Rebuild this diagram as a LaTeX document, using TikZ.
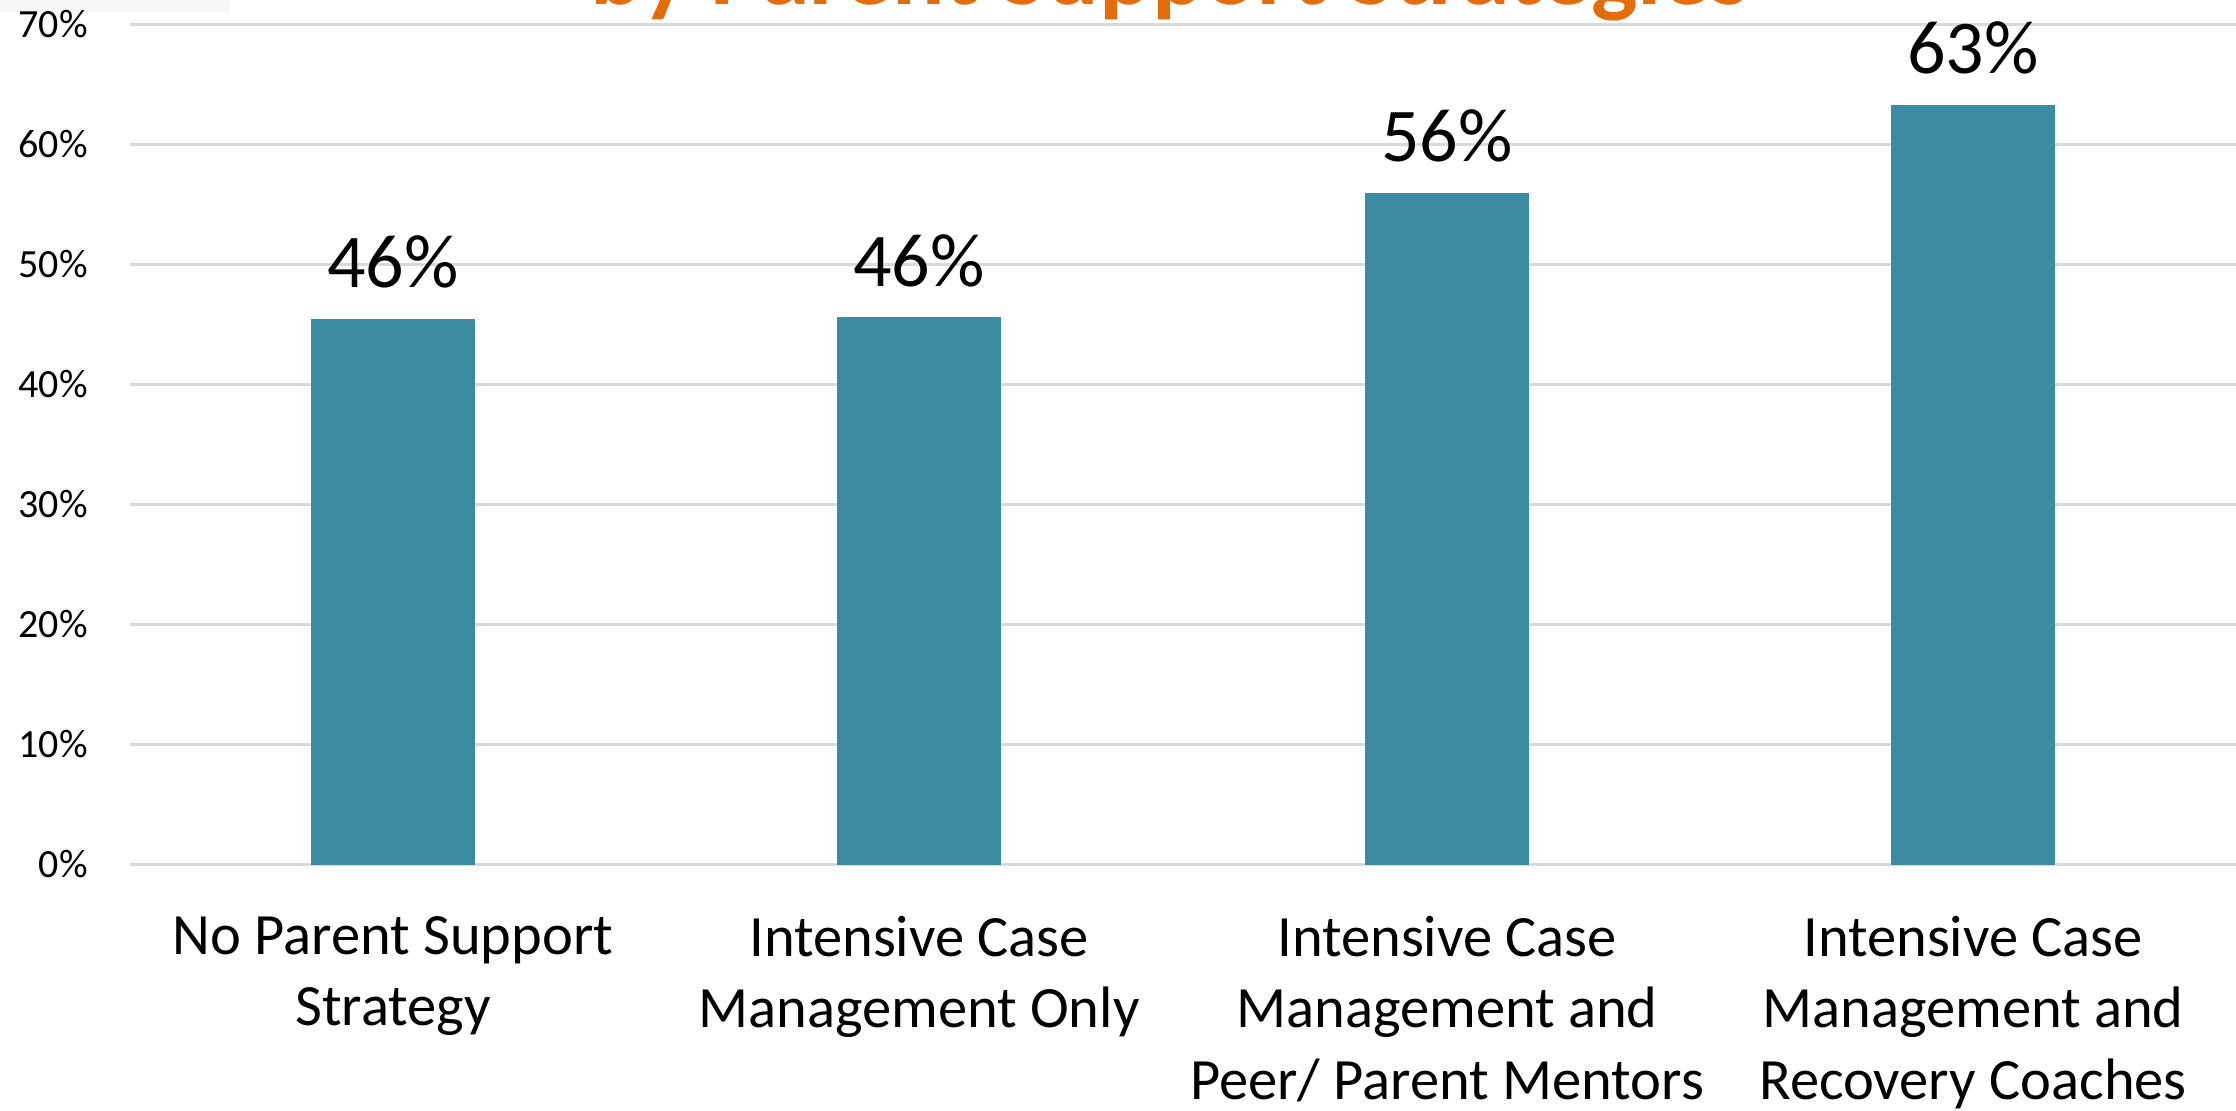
\documentclass[tikz,border=0pt]{standalone}
\usepackage{fontspec}
\setmainfont{Carlito}
\definecolor{barcol}{RGB}{61,139,163}
\definecolor{gridcol}{RGB}{217,217,217}
\definecolor{titlecol}{RGB}{228,108,10}
\begin{document}
\begin{tikzpicture}[x=1pt,y=-1pt,
  gridline/.style={draw=gridcol,line width=2.5pt},
  barbox/.style={fill=barcol,draw=none},
  ticklabel/.style={anchor=base east,inner sep=0pt,font=\fontsize{40}{48}\selectfont},
  vallabel/.style={anchor=base,inner sep=0pt,font=\fontsize{76}{90}\selectfont},
  catlabel/.style={anchor=north,inner sep=0pt,align=center,font=\fontsize{58.5}{71.5}\selectfont},
  titletext/.style={anchor=base,inner sep=0pt,text=titlecol,font=\fontsize{98}{110}\selectfont\bfseries}]
\clip (0,0) rectangle (2236,1111);
\fill[white] (0,0) rectangle (2236,1111);
\fill[black!3] (0,0) rectangle (230,12);
% title (cut off at top)
\node[titletext] (title) at (1170,4) {by Parent Support Strategies};
% gridlines and tick labels
\foreach \k/\lab in {0/0\%,1/10\%,2/20\%,3/30\%,4/40\%,5/50\%,6/60\%,7/70\%}{
  \coordinate (gl\k) at (130,{864.5-120*\k});
  \coordinate (gr\k) at (2236,{864.5-120*\k});
  \draw[gridline] (gl\k) -- (gr\k);
  \node[ticklabel] (t\k) at (88,{864.5-120*\k+12.5}) {\lab};
}
% bars
\foreach \i/\cx/\v/\lab in {1/393/45.5/46\%,2/919/45.6/46\%,3/1447/56.0/56\%,4/1973/63.3/63\%}{
  \path[barbox] ({\cx-82},864.5) rectangle ({\cx+82},{864.5-12*\v});
  \coordinate (top\i) at (\cx,{864.5-12*\v});
  \node[vallabel] (v\i) at ([yshift=31pt]top\i) {\lab};
}
% category labels
\node[catlabel] (c1) at (393,916) {No Parent Support\\Strategy};
\node[catlabel] (c2) at (919,916) {Intensive Case\\Management Only};
\node[catlabel] (c3) at (1447,916) {Intensive Case\\Management and\\Peer/ Parent Mentors};
\node[catlabel] (c4) at (1973,916) {Intensive Case\\Management and\\Recovery Coaches};
\end{tikzpicture}
\end{document}
